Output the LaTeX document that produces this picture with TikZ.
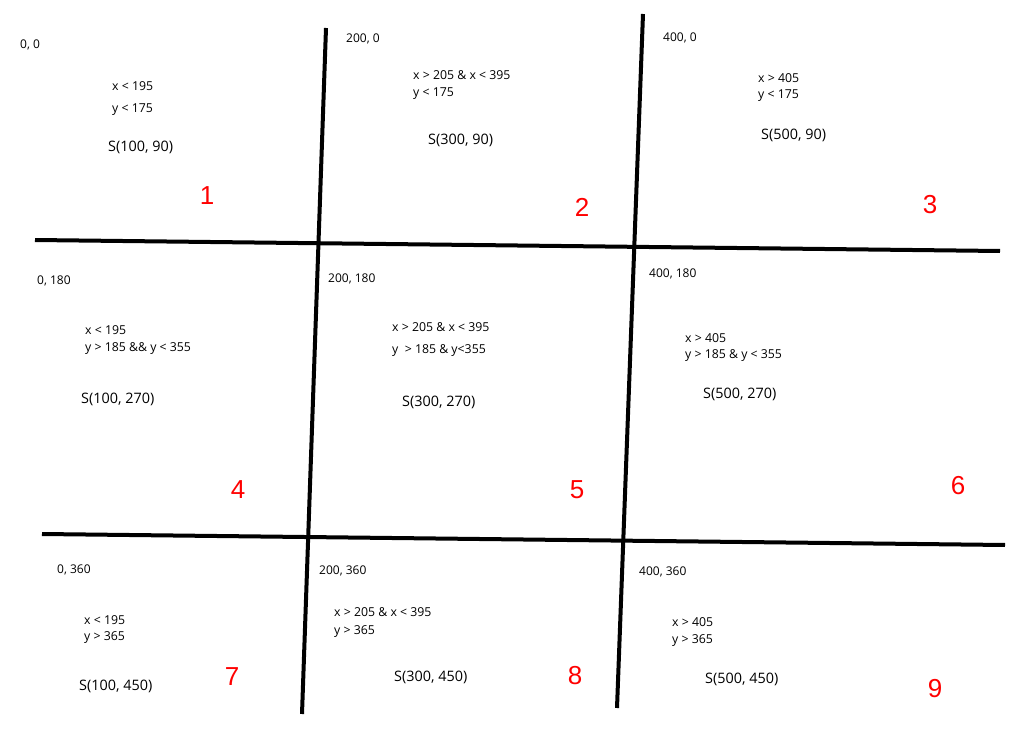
\documentclass[tikz,border=0pt]{standalone}
\usepackage{fontspec}
\setmainfont{Open Sans}
\newfontfamily\numfont{Liberation Sans}
\tikzset{
  bar/.style={line width=4pt},
  corner/.style={anchor=west,inner sep=0pt,font=\fontsize{12}{14}\selectfont},
  cond/.style={anchor=west,inner sep=0pt,font=\fontsize{12.3}{14}\selectfont},
  seed/.style={anchor=west,inner sep=0pt,font=\fontsize{14.4}{16}\selectfont},
  cellno/.style={inner sep=0pt,text=red,font=\numfont\fontsize{26}{28}\selectfont}
}
\begin{document}
\begin{tikzpicture}[x=1pt,y=-1pt]
\useasboundingbox (0,0) rectangle (1029,749);
% grid lines
\coordinate (h1a) at (35,240);  \coordinate (h1b) at (1000,251);
\coordinate (h2a) at (42,534);  \coordinate (h2b) at (1005,545);
\coordinate (v1a) at (326,28);  \coordinate (v1b) at (302,714);
\coordinate (v2a) at (643,14);  \coordinate (v2b) at (617,708);
\draw[bar] (h1a) -- (h1b);
\draw[bar] (h2a) -- (h2b);
\draw[bar] (v1a) -- (v1b);
\draw[bar] (v2a) -- (v2b);
% row 1
\node[corner] (c00) at (20,45) {0, 0};
\node[cond] (a1) at (112,86) {x < 195};
\node[cond] (b1) at (112,110) {y < 175};
\node[seed] (s1) at (108,147) {S(100, 90)};
\node[corner] (c20) at (346,39) {200, 0};
\node[cond] (a2) at (413,75) {x > 205 \& x < 395};
\node[cond] (b2) at (413,94) {y < 175};
\node[seed] (s2) at (428,140) {S(300, 90)};
\node[corner] (c40) at (663,38) {400, 0};
\node[cond] (a3) at (758,78) {x > 405};
\node[cond] (b3) at (758,96) {y < 175};
\node[seed] (s3) at (761,135) {S(500, 90)};
% row 2
\node[corner] (c01) at (37,281) {0, 180};
\node[cond] (a4) at (85,330) {x < 195};
\node[cond] (b4) at (85,349) {y > 185 \&\& y < 355};
\node[seed] (s4) at (81,399) {S(100, 270)};
\node[corner] (c21) at (328,279) {200, 180};
\node[cond] (a5) at (392,327) {x > 205 \& x < 395};
\node[cond] (b5) at (392,351) {y\ \ > 185 \& y<355};
\node[seed] (s5) at (402,402) {S(300, 270)};
\node[corner] (c41) at (649,274) {400, 180};
\node[cond] (a6) at (685,338) {x > 405};
\node[cond] (b6) at (685,356) {y > 185 \& y < 355};
\node[seed] (s6) at (703,394) {S(500, 270)};
% row 3
\node[corner] (c02) at (57,570) {0, 360};
\node[cond] (a7) at (84,620) {x < 195};
\node[cond] (b7) at (84,638) {y > 365};
\node[seed] (s7) at (79,686) {S(100, 450)};
\node[corner] (c22) at (319,571) {200, 360};
\node[cond] (a8) at (334,612) {x > 205 \& x < 395};
\node[cond] (b8) at (334,632) {y > 365};
\node[seed] (s8) at (394,677) {S(300, 450)};
\node[corner] (c42) at (639,572) {400, 360};
\node[cond] (a9) at (672,622) {x > 405};
\node[cond] (b9) at (672,641) {y > 365};
\node[seed] (s9) at (705,679) {S(500, 450)};
% cell numbers
\foreach \n/\x/\y in {1/207/196,2/582/207,3/930/205,4/238/490,5/577/490,6/958/486,7/232/677,8/575/676,9/935/689}
  \node[cellno] (n\n) at (\x,\y) {\n};
\end{tikzpicture}
\end{document}
